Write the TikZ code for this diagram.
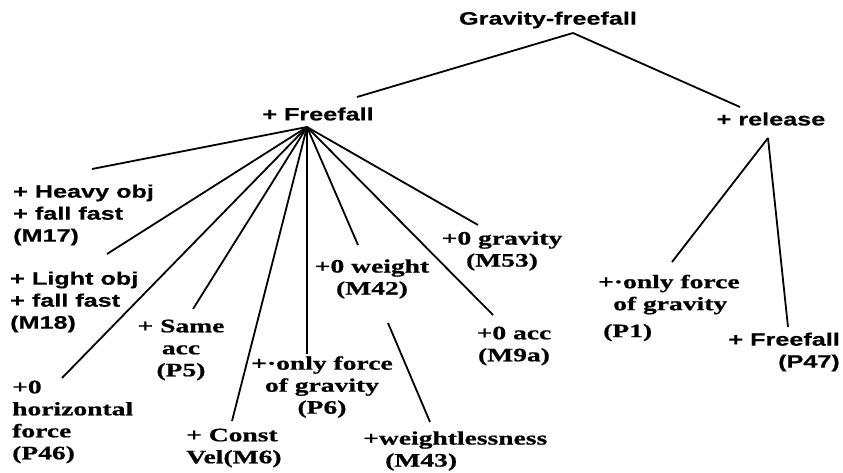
\documentclass[tikz,border=0pt]{standalone}
\usepackage{fontspec}
\newfontfamily\labsans{Liberation Sans}[FakeStretch=1.4, FakeBold=0.4]
\newfontfamily\labserif{Liberation Serif}[FakeStretch=1.45, FakeBold=0.8]
\usetikzlibrary{positioning}

\begin{document}
\begin{tikzpicture}[
  x=1pt, y=-1pt,
  sf/.style={inner sep=0pt, align=left,
             font=\labsans\bfseries\fontsize{18}{22}\selectfont},
  rm/.style={inner sep=0pt, align=left,
             font=\labserif\bfseries\fontsize{19}{22}\selectfont},
  edge/.style={line width=1.8pt}
]
  \fill[white] (0,0) rectangle (843,473);
  \useasboundingbox (0,0) rectangle (843,473);

  % top levels
  \node[sf] (grav)    at (548,20)  {Gravity-freefall};
  \node[sf] (free)    at (318,114) {+ Freefall};
  \node[sf] (release) at (771,119) {+ release};

  % children of Freefall
  \node[sf, anchor=west] (heavy) at (13,215)
        {+ Heavy obj\\+ fall fast\\(M17)};
  \node[sf, anchor=west] (light) at (10,302)
        {+ Light obj\\+ fall fast\\(M18)};
  \node[rm, align=center] (sameacc) at (181,350) {+ Same\\acc\\(P5)};
  \node[rm, anchor=west] (horiz) at (12,422)
        {+0\\horizontal\\force\\(P46)};
  \node[rm, anchor=west] (constvel) at (186,448) {+ Const\\Vel(M6)};
  \node[rm, align=center] (onlyg) at (322,387)
        {+·only force\\of gravity\\(P6)};
  \node[rm, align=center] (noweight) at (372,279) {+0 weight\\(M42)};
  \node[rm, anchor=west] (wless) at (363,451)
        {+weightlessness\\\hspace*{22pt}(M43)};
  \node[rm, align=center] (nograv) at (502,251) {+0 gravity\\(M53)};
  \node[rm, align=center] (noacc) at (514,346) {+0 acc\\(M9a)};

  % children of release
  \node[rm, anchor=west] (onlyrel) at (598,308)
        {+·only force\\\hspace*{15pt}of gravity\\[5pt]\hspace*{5pt}(P1)};
  \node[sf, align=right, anchor=east] (freerel) at (840,352)
        {+ Freefall\\(P47)};

  % joints
  \coordinate (gtop) at ([shift={(25,13)}]grav.center);
  \coordinate (fhub) at ([shift={(-11,13)}]free.center);
  \coordinate (rhub) at ([shift={(-3,19)}]release.center);

  \draw[edge] (gtop) -- ([shift={(39,-17)}]free.center);
  \draw[edge] (gtop) -- ([shift={(-31,-12)}]release.center);

  \draw[edge] (fhub) -- ([shift={(79,-46)}]heavy.west);
  \draw[edge] (fhub) -- ([shift={(97,-48)}]light.west);
  \draw[edge] (fhub) -- ([shift={(50,-44)}]horiz.west);
  \draw[edge] (fhub) -- ([shift={(12,-41)}]sameacc.center);
  \draw[edge] (fhub) -- ([shift={(46,-27)}]constvel.west);
  \draw[edge] (fhub) -- ([shift={(-15,-33)}]onlyg.center);
  \draw[edge] (fhub) -- ([shift={(-14,-34)}]noweight.center);
  \draw[edge] (fhub) -- ([shift={(-24,-26)}]nograv.center);
  \draw[edge] (fhub) -- ([shift={(-21,-31)}]noacc.center);
  \draw[edge] ([shift={(16,44)}]noweight.center) -- ([shift={(67,-29)}]wless.west);

  \draw[edge] (rhub) -- ([shift={(74,-46)}]onlyrel.west);
  \draw[edge] (rhub) -- ([shift={(-52,-25)}]freerel.east);
\end{tikzpicture}
\end{document}
